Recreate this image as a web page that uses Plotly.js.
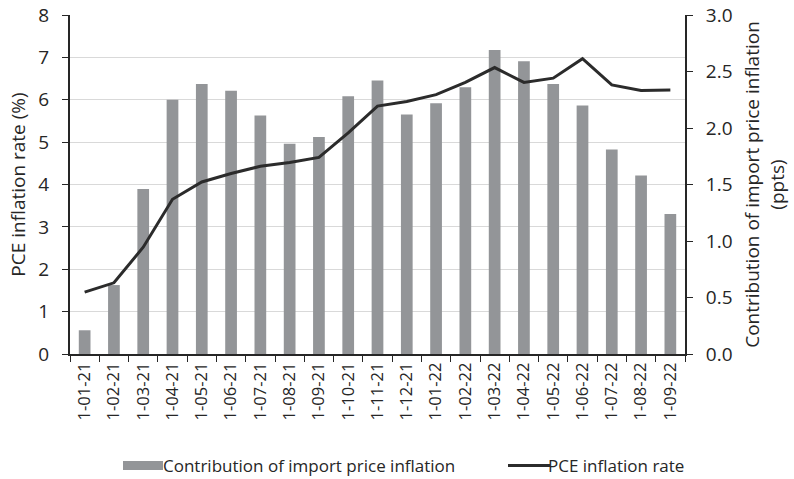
<!DOCTYPE html>
<html><head><meta charset="utf-8">
<script src="https://cdn.plot.ly/plotly-3.0.1.min.js"></script>
<style>html,body{margin:0;padding:0;background:#fff}#chart{width:794px;height:479px}</style>
</head><body><div id="chart"></div>
<script>
const categories = ["1-01-21","1-02-21","1-03-21","1-04-21","1-05-21","1-06-21","1-07-21","1-08-21","1-09-21","1-10-21","1-11-21","1-12-21","1-01-22","1-02-22","1-03-22","1-04-22","1-05-22","1-06-22","1-07-22","1-08-22","1-09-22"];
const importContribution = [0.21,0.61,1.46,2.25,2.39,2.33,2.11,1.86,1.92,2.28,2.42,2.12,2.22,2.36,2.69,2.59,2.39,2.20,1.81,1.58,1.24];
const pceInflation = [1.46,1.68,2.52,3.65,4.06,4.26,4.43,4.52,4.64,5.22,5.85,5.96,6.12,6.41,6.76,6.41,6.51,6.97,6.35,6.22,6.23];
const leftTicks = [0,1,2,3,4,5,6,7,8];
const rightTicks = [0,0.5,1,1.5,2,2.5,3];

const FONT = "Open Sans, sans-serif";
const TXT = "#262626";
const traces = [
  {type:"bar", x:categories, y:importContribution, yaxis:"y", name:"Contribution of import price inflation",
   marker:{color:"#939598"}, legend:"legend"},
  {type:"scatter", mode:"lines", x:categories, y:pceInflation, yaxis:"y2", name:"PCE inflation rate",
   line:{color:"#2b2b2b", width:3}, legend:"legend2"}
];
const legendBase = {orientation:"h", xref:"container", xanchor:"left", yref:"container", y:0.027, yanchor:"middle",
                    font:{size:17, color:TXT}, bgcolor:"rgba(0,0,0,0)"};
const layout = {
  width:794, height:479,
  margin:{l:70, r:109, t:15, b:125, autoexpand:false},
  paper_bgcolor:"#fff", plot_bgcolor:"#fff",
  font:{family:FONT, color:TXT, size:15},
  bargap:0.6,
  showlegend:true,
  legend:Object.assign({}, legendBase, {x:123/794}),
  legend2:Object.assign({}, legendBase, {x:508/794}),
  xaxis:{type:"category", tickangle:-90, tickfont:{size:16.5, color:TXT}, showline:true, linecolor:"#262626", linewidth:2,
         ticks:"outside", tickson:"boundaries", ticklen:6, tickcolor:"#262626", tickwidth:1, showgrid:false, automargin:false},
  yaxis:{side:"right", range:[0,3], tickvals:rightTicks, ticktext:rightTicks.map(v=>v.toFixed(1)),
         showgrid:false, zeroline:false, showline:true, linecolor:"#262626", linewidth:2, automargin:false,
         ticks:"outside", ticklen:6, tickcolor:"#262626", tickfont:{size:19, color:TXT}, ticklabelstandoff:9,
         title:{text:"Contribution of import price inflation<br>(ppts)", font:{size:19, color:TXT}, standoff:14}},
  yaxis2:{overlaying:"y", side:"left", range:[0,8], tickvals:leftTicks, automargin:false,
          showgrid:true, gridcolor:"#d9d9d9", gridwidth:1, zeroline:false, showline:true, linecolor:"#262626", linewidth:2,
          ticks:"outside", ticklen:6, tickcolor:"#262626", tickfont:{size:19, color:TXT}, ticklabelstandoff:9,
          title:{text:"PCE inflation rate (%)", font:{size:19, color:TXT}, standoff:8}}
};
Plotly.newPlot("chart", traces, layout, {displayModeBar:false, staticPlot:true}).then(gd => {
  gd.querySelectorAll("g.legendpoints path").forEach(p => p.setAttribute("d", "M-26,-4.5H20V4.5H-26Z"));
  gd.querySelectorAll(".legendlines path").forEach(p => p.setAttribute("d", "M-6,0H42"));
});
</script></body></html>
